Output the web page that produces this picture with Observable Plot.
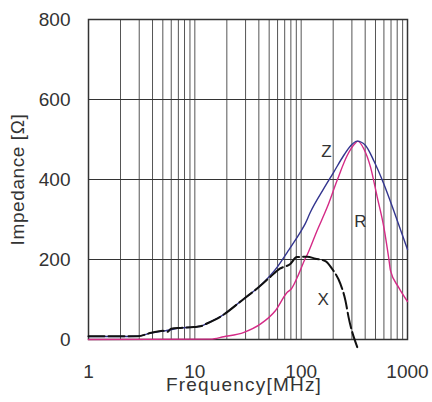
<!DOCTYPE html>
<html><head><meta charset="utf-8">
<script src="https://cdn.jsdelivr.net/npm/d3@7"></script>
<script src="https://cdn.jsdelivr.net/npm/@observablehq/plot@0.6"></script>
<style>body{margin:0;background:#fff}</style>
</head><body><div id="chart"></div>
<script>
const zFreq = [1,2,2.9,3.8,5.1,7.3,9.8,11.3,13,17.4,29,40,44.5,59.5,74,85,98,109,122,163,202,251,291,337,403,482,599,743,1000];
const zVal  = [7.5,7.5,8,16,21,29,31,33,40,57,102,131,143,181,218,242,268,289,318,377,418,460,484,496,485,447,389,322,225];
const rFreq = [1,14,18.7,29,41.6,57.2,74,81,95,109,114,141,176,218,271,324,340,388,449,519,599,667,692,823,1000];
const rVal  = [0,1,7,18,39,72,118,127,164,202,212,272,331,398,460,491,496,477,431,356,281,202,172,131,95];
const xFreq = [1,2.9,3.8,5,5.5,6,7.3,9.8,11.3,13,17.4,29,40,51,63,79,91,114,136,169,195,234,261,279,337];
const xVal  = [8,8,16,22,19,27,29,31,33,40,57,102,131,156,177,189,206,207,202,196,177,139,97,56,-19];
const xTicks = [1,10,100,1000];
const yTicks = [0,200,400,600,800];
const curveLabels = ["Z","R","X"];
const labelFreq = [173,361,161];
const labelVal = [470,296,100];

const toRows = (f, v) => f.map((d,i) => ({f: d, v: v[i]}));
const Z = toRows(zFreq, zVal), R = toRows(rFreq, rVal), X = toRows(xFreq, xVal);
const minor = [];
for (const dec of [1,10,100]) for (let k=1;k<=9;k++) minor.push(dec*k);
minor.push(1000);
const labels = curveLabels.map((t,i)=>({t, f: labelFreq[i], v: labelVal[i]}));

const font = "Liberation Sans, Arial, sans-serif";
const chart = Plot.plot({
  width: 432, height: 402,
  marginLeft: 88, marginRight: 25, marginTop: 19, marginBottom: 63,
  style: {fontFamily: font, background: "#fff", color: "#333"},
  x: {type: "log", domain: [1,1000]},
  y: {domain: [0,800]},
  marks: [
    Plot.ruleX(minor, {stroke: "#555", strokeWidth: 1}),
    Plot.ruleY(yTicks, {stroke: "#333", strokeWidth: 1}),
    Plot.frame({stroke: "#333", strokeWidth: 1.5}),
    Plot.axisX({ticks: xTicks, tickFormat: d => String(d), tickSize: 0, tickPadding: 25, fontSize: 19, label: null}),
    Plot.axisY({ticks: yTicks, tickSize: 0, tickPadding: 18, fontSize: 19, label: null}),
    Plot.line(R, {x: "f", y: "v", stroke: "#d42a86", strokeWidth: 1.4, curve: "monotone-x"}),
    Plot.line(Z, {x: "f", y: "v", stroke: "#33358f", strokeWidth: 1.4, curve: "monotone-x"}),
    Plot.line(X, {x: "f", y: "v", stroke: "#111", strokeWidth: 2, strokeDasharray: "16,4", curve: "monotone-x"}),
    Plot.text(labels, {x: "f", y: "v", text: "t", fontSize: 17, fill: "#333"}),
    Plot.text(["Frequency[MHz]"], {frameAnchor: "bottom", textAnchor: "middle", dx: -4, dy: 51, fontSize: 19, fill: "#333"}),
    Plot.text(["Impedance [Ω]"], {frameAnchor: "left", textAnchor: "middle", dx: -71, rotate: -90, fontSize: 19, fill: "#333"})
  ]
});
d3.select(chart).selectAll("text").filter(function(){ return this.textContent === "Frequency[MHz]"; })
  .style("letter-spacing", "1.2px");
d3.select(chart).selectAll("text").filter(function(){ return this.textContent === "Impedance [Ω]"; })
  .style("letter-spacing", "0.6px");
document.getElementById("chart").append(chart);
</script></body></html>
